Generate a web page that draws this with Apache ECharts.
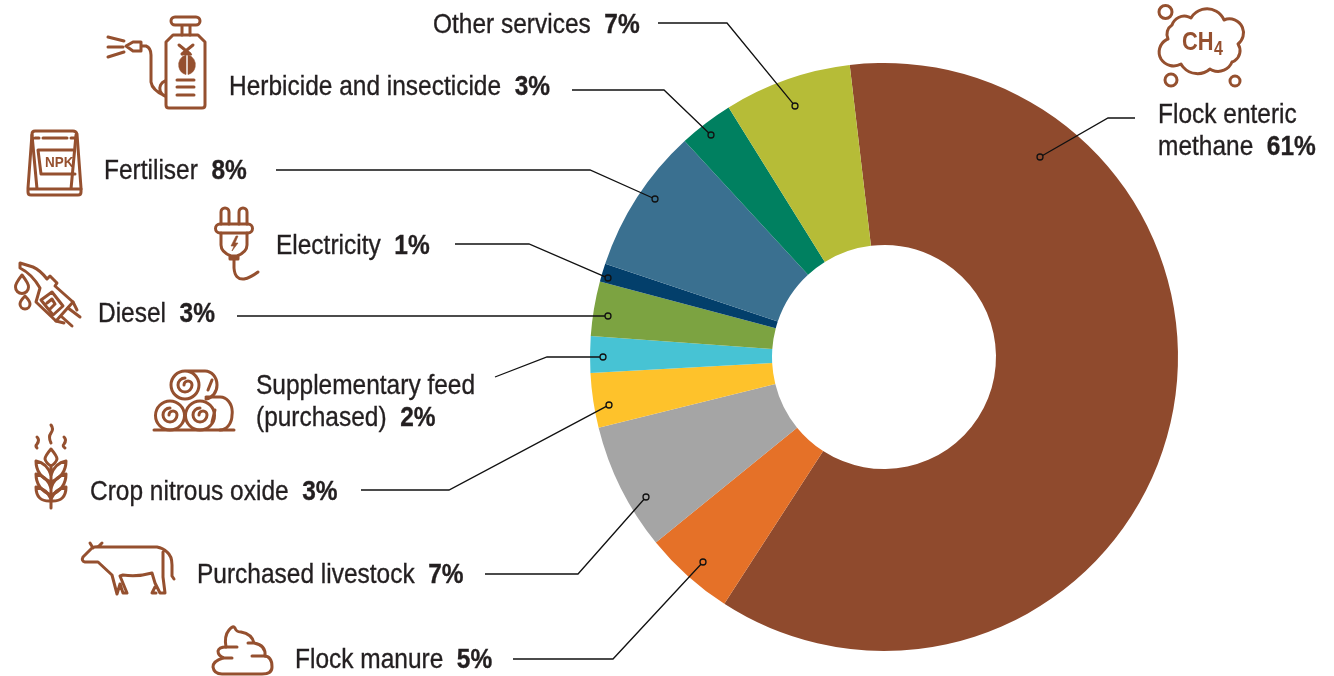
<!DOCTYPE html>
<html>
<head>
<meta charset="utf-8">
<style>html,body{margin:0;padding:0;background:#fff}#chart{width:1334px;height:676px}</style>
<script src="https://cdn.jsdelivr.net/npm/echarts@6/dist/echarts.min.js"></script>
</head>
<body>
<div id="chart"></div>
<script>
// Emission sources, clockwise from the top of the ring
const sources = ['Flock enteric\nmethane', 'Flock manure', 'Purchased livestock', 'Crop nitrous oxide',
  'Supplementary feed\n(purchased)', 'Diesel', 'Electricity', 'Fertiliser', 'Herbicide and insecticide', 'Other services'];
const shares = [61, 5, 7, 3, 2, 3, 1, 8, 3, 7];
const sliceColours = ['#8f4a2d', '#e57128', '#a5a5a5', '#fec22b', '#47c3d4', '#7ca341', '#033f6b', '#3a7090', '#008060', '#b6bc37'];

// Label placement: left edge and vertical middle of each text block
const labelAnchors = [[1158, 131], [295, 660], [197, 575], [90, 492], [256, 402], [98, 314], [276, 246], [104, 171], [229, 87], [433, 25]];
// Leader routes: from the dot in the slice, through the elbow, to the end beside the label
const leaders = [
  [[1040, 157], [1108, 118], [1135, 118]],
  [[703, 562], [613, 659], [513, 659]],
  [[646, 497], [578, 574], [485, 574]],
  [[609, 405], [449, 490], [361, 490]],
  [[603, 357], [547, 357], [495, 377]],
  [[608, 316], [237, 316]],
  [[608, 278], [529, 244], [455, 244]],
  [[655, 199], [590, 170], [276, 170]],
  [[711, 135], [664, 90], [572, 90]],
  [[795, 106], [727, 23], [658, 23]]
];

const INK = '#231f20';
const ICON = '#95502f';
const DOT_R = 3;
const FONT = '"Liberation Sans", sans-serif';
const LABEL_SIZE = 27.5;
const LABEL_SQUEEZE = 0.89;

// Pull the first point of a route back to the rim of its dot
function trimmed(route) {
  const pts = route.map(p => p.slice());
  const dx = pts[1][0] - pts[0][0], dy = pts[1][1] - pts[0][1];
  const len = Math.hypot(dx, dy);
  pts[0][0] += dx / len * DOT_R;
  pts[0][1] += dy / len * DOT_R;
  return pts;
}

// Line-art pictograms, one per source
const iconStrokes = [
  // methane cloud
  'M1172,25 A13,13 0 0 1 1191,18 A18.5,18.5 0 0 1 1224,20 A14,14 0 0 1 1238,44 A12,12 0 0 1 1232,62 A15,15 0 0 1 1210,69 A19,19 0 0 1 1181,64 A15,15 0 0 1 1161,59 A14,14 0 0 1 1168,39 A11,11 0 0 1 1172,25 Z',
  'M1172,12 A6.5,6.5 0 1 1 1159,12 A6.5,6.5 0 1 1 1172,12 Z',
  'M1177,80 A6,6 0 1 1 1165,80 A6,6 0 1 1 1177,80 Z',
  'M1240,81 A5,5 0 1 1 1230,81 A5,5 0 1 1 1240,81 Z',
  // sprayer
  'M175,17 H196 A4,4 0 0 1 196,25 H175 A4,4 0 0 1 175,17 Z M182,25 V35 M190,25 V35',
  'M173,35 H198 L205,42 V105 Q205,108 202,108 H169 Q166,108 166,105 V42 Z',
  'M177,80 H194 M177,87 H194 M177,95 H194',
  'M142,46 H146 Q151,48 151,55 V82 Q152,90 165,96 M165,81 A8,8 0 0 0 165,96',
  'M126,46 L133,42 H141 V51 H133 Z M108,37 L124,41 M108,47 L123,47 M108,57 L124,52',
  'M179,45 L190,54 M193,45 L182,54',
  // fertiliser bag
  'M35,131 H73 Q76,131 77,134 L81,188 V192 Q81,195 78,195 H31 Q28,195 28,192 V188 L32,134 Q32,131 35,131 Z',
  'M29,189 H81 M32,135 L37,189 M76,135 L71,189 M35,138 H39 M43,138 H67 M71,138 H75',
  'M73,150 H38 L41,174 H75',
  // plug
  'M221,224 V212 A4,4 0 0 1 229,212 V224 M239,224 V212 A4,4 0 0 1 247,212 V224',
  'M220,224 H248 A4.5,4.5 0 0 1 248,233 H220 A4.5,4.5 0 0 1 220,224 Z',
  'M221,233 V245 Q221,252 231,256 H237 Q247,252 247,245 V233 M230,256 V259 H238 V256 M234,259 V268 Q235,280 244,279 Q250,278 258,272',
  // fuel nozzle
  'M20,263 L33,267 Q40,270 47,279 L50,276 L57,283 L55,286 L73,302 L56,321 L36,302 L40,288 Q32,274 20,268 Z',
  'M41,300 L52,292 L63,306 L53,315 Z M47,303 L52,299 L55,304 M50,309 L55,304',
  'M68,308 L80,317 M62,317 L72,326 M73,302 L77,310 M56,321 L64,323',
  'M22,275 Q15,284 15.5,287 A6.5,6.5 0 0 0 28.5,287 Q29,284 22,275 Z',
  'M25,296 Q20,301 20,304 A5,5 0 0 0 30,304 Q30,301 25,296 Z',
  // hay bales
  'M185,371 A14,14 0 1 0 185,399 A14,14 0 1 0 185,371 Z M185,371 H205 A12,14 0 0 1 217,385 A13,14 0 0 1 206,399',
  'M185,378 A7,7 0 1 0 192,385 A4,4 0 1 0 184,385',
  'M170,401 A14.5,14.5 0 1 0 170,430 A14.5,14.5 0 1 0 170,401 Z M170,408 A7,7 0 1 0 177,415 A4,4 0 1 0 169,415',
  'M200,401 A14.5,14.5 0 1 0 200,430 A14.5,14.5 0 1 0 200,401 Z M200,408 A7,7 0 1 0 207,415 A4,4 0 1 0 199,415',
  'M206,397 H220 A12,15 0 0 1 232,415 A12,15 0 0 1 220,430 M212,380 L208,390 M215,410 L212,422',
  'M154,430 H234',
  // wheat
  'M51,449 Q45,456 45,459 Q46,463 51,466 Q56,463 57,459 Q57,456 51,449 Z M51,466 V508',
  'M36,461 Q47,463 51,475 M36,461 Q36,476 51,482 M66,461 Q55,463 51,475 M66,461 Q66,476 51,482',
  'M36,474 Q47,476 51,488 M36,474 Q36,489 51,495 M66,474 Q55,476 51,488 M66,474 Q66,489 51,495',
  'M36,487 Q47,489 51,499 M36,487 Q36,502 51,501 M66,487 Q55,489 51,499 M66,487 Q66,502 51,501',
  'M51,425 Q54,429 51,433 Q48,437 51,443 M37,437 Q40,440 37,444 Q35,446 37,448 M64,437 Q67,440 64,444 Q62,446 65,448',
  // cow
  'M100,547 H157 Q163,548 167,552 Q172,556 172,565 L172,576 L174,579 M163,552 V577 L165,593 H160 L155,583 L152,573 Q138,577 123,575 L120,576 L127,593 H123 L120,584 L117,594 L112,575 L98,562 H85 Q81,561 83,557 L92,548 Q96,546 100,547 M90,543 L93,548 M102,543 L98,547 M155,587 L152,593 H156',
  // manure
  'M223,658 Q213,661 213,667 Q214,674 222,674 H262 Q272,674 272,667 Q272,656 264,656 H252',
  'M232,658 H224 Q218,656 218,651 Q219,647 226,647 H237',
  'M226,647 Q224,636 229,630 Q233,625 235,628 Q236,632 241,632 Q252,634 254,643 H248 M254,643 Q266,645 265,656'
];

// Solid detail inside the pictograms
const iconFills = [
  // lightning bolt on the plug
  'M236,236 L231,246 H234 L232,251 L238,243 H235 L238,236 Z',
  // beetle on the sprayer
  'M186,55 A9.5,10 0 0 0 186,74.5 Z M188,55 A9.5,10 0 0 1 188,74.5 Z M182,55 Q187,47 192,55 Z'
];

// Overlay of pictograms, leaders and labels, redrawn as one custom mark
function renderOverlay() {
  const children = [];
  iconStrokes.forEach(d => children.push({
    type: 'path', shape: { pathData: d },
    style: { fill: 'none', stroke: ICON, lineWidth: 3, lineCap: 'round', lineJoin: 'round' }
  }));
  iconFills.forEach(d => children.push({
    type: 'path', shape: { pathData: d },
    style: { fill: ICON, stroke: ICON, lineWidth: 0.6 }
  }));
  children.push(
    { type: 'text', x: 45, y: 162.5, scaleX: 0.93,
      style: { text: 'NPK', fill: ICON, font: 'bold 14.5px "Liberation Sans"', verticalAlign: 'middle' } },
    { type: 'text', x: 1182, y: 42.5, scaleX: 0.84,
      style: { text: 'CH', fill: ICON, font: 'bold 26px "Liberation Sans"', verticalAlign: 'middle' } },
    { type: 'text', x: 1214, y: 49, scaleX: 0.8,
      style: { text: '4', fill: ICON, font: 'bold 20px "Liberation Sans"', verticalAlign: 'middle' } }
  );
  leaders.forEach((route, i) => {
    children.push({
      type: 'polyline', shape: { points: trimmed(route) },
      style: { fill: 'none', stroke: '#111', lineWidth: 1.3 }
    }, {
      type: 'circle', shape: { cx: route[0][0], cy: route[0][1], r: DOT_R },
      style: { fill: 'none', stroke: '#111', lineWidth: 1.3 }
    }, {
      type: 'text', x: labelAnchors[i][0], y: labelAnchors[i][1], scaleX: LABEL_SQUEEZE,
      style: {
        text: sources[i] + '  {pct|' + shares[i] + '%}',
        fill: INK,
        stroke: INK,
        lineWidth: 0.35,
        fontFamily: FONT,
        fontSize: LABEL_SIZE,
        lineHeight: 32,
        align: 'left',
        verticalAlign: 'middle',
        rich: { pct: { fontFamily: FONT, fontSize: LABEL_SIZE, fontWeight: 'bold', fill: INK, lineHeight: 32 } }
      }
    });
  });
  return { type: 'group', children: children };
}

const chart = echarts.init(document.getElementById('chart'), null, { renderer: 'canvas' });
chart.setOption({
  animation: false,
  backgroundColor: '#fff',
  series: [{
    type: 'pie',
    center: [884, 357],
    radius: [112, 294],
    startAngle: 96.7,
    clockwise: true,
    silent: true,
    label: { show: false },
    labelLine: { show: false },
    data: sources.map((name, i) => ({ name: name, value: shares[i], itemStyle: { color: sliceColours[i] } }))
  }, {
    type: 'custom',
    coordinateSystem: 'none',
    silent: true,
    z: 10,
    data: [0],
    renderItem: renderOverlay
  }]
});
</script>
</body>
</html>
